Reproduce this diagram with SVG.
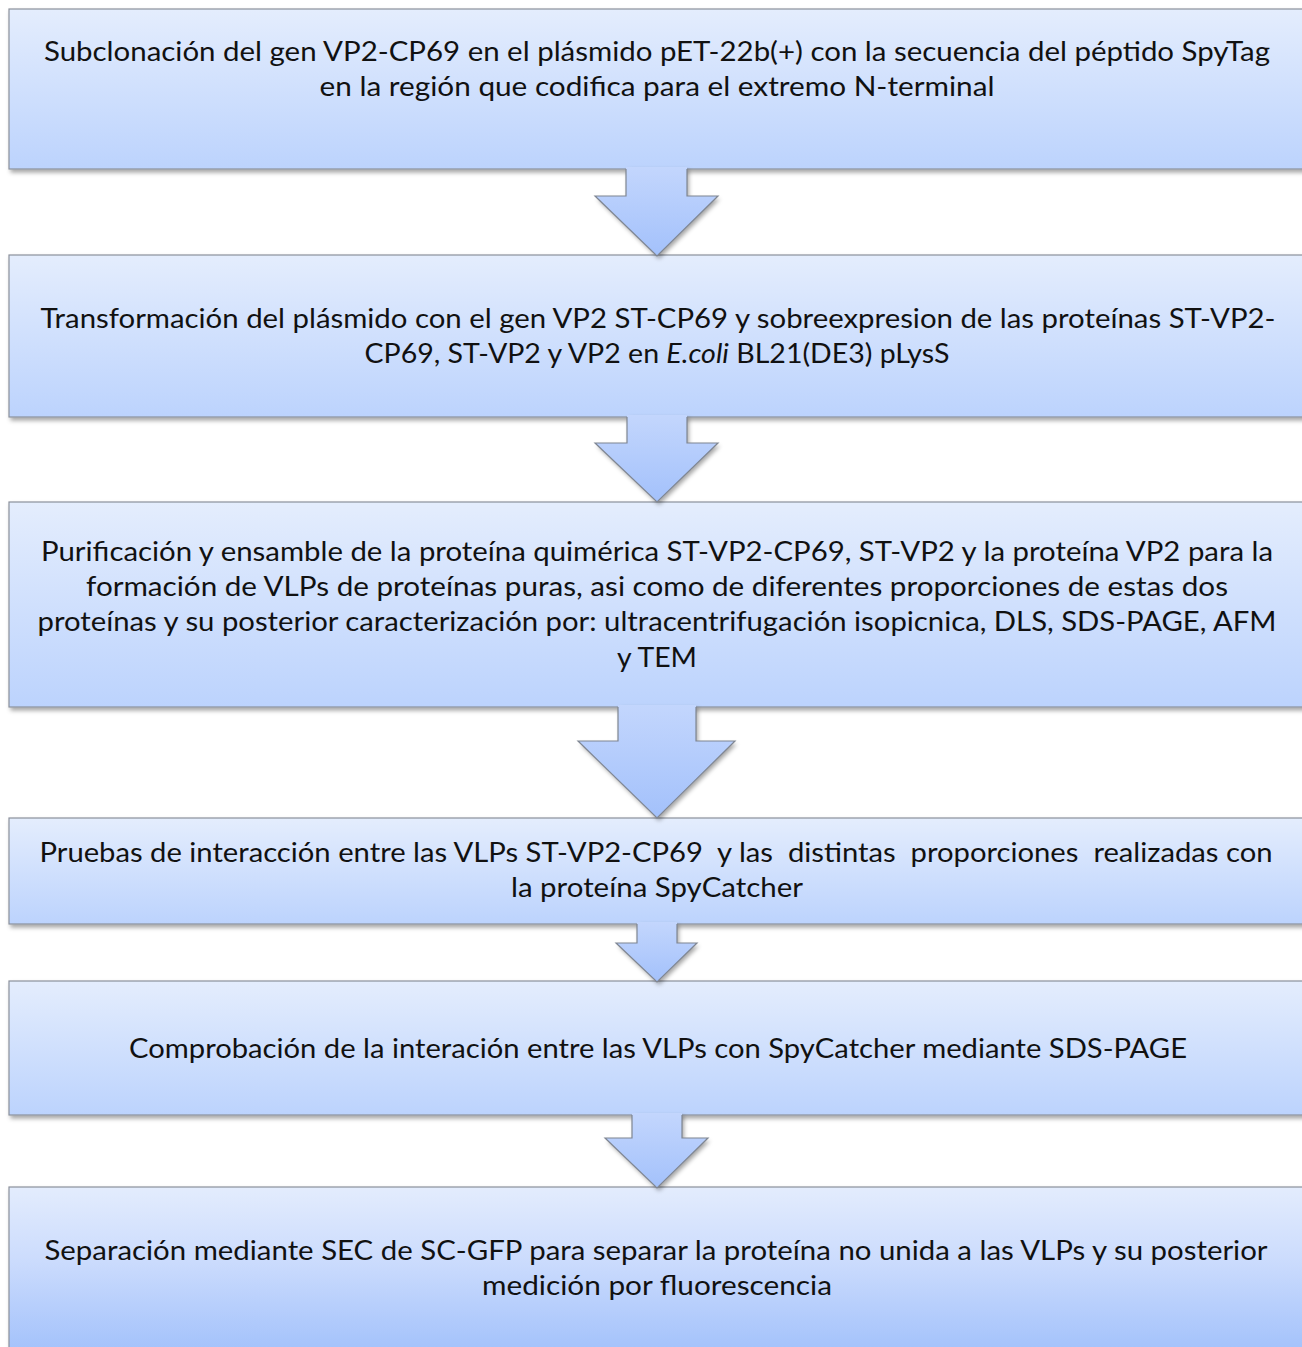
<svg xmlns="http://www.w3.org/2000/svg" width="1302" height="1347" viewBox="0 0 1302 1347">
  <defs>
    <linearGradient id="boxFill" x1="0" y1="0" x2="0" y2="1">
      <stop offset="0" stop-color="#e4edfd"/>
      <stop offset="1" stop-color="#bcd3fd"/>
    </linearGradient>
    <linearGradient id="lastFill" x1="0" y1="1187" x2="0" y2="1347" gradientUnits="userSpaceOnUse">
      <stop offset="0" stop-color="#e3ecfd"/>
      <stop offset="0.45" stop-color="#ccdcfd"/>
      <stop offset="1" stop-color="#a5c3fb"/>
    </linearGradient>
    <linearGradient id="arrowFill" x1="0" y1="0" x2="0" y2="1">
      <stop offset="0" stop-color="#c3d6fd"/>
      <stop offset="1" stop-color="#a3c1fb"/>
    </linearGradient>
    <filter id="shadow" x="-5%" y="-20%" width="115%" height="150%">
      <feDropShadow dx="2" dy="3" stdDeviation="2.2" flood-color="#000" flood-opacity="0.35"/>
    </filter>
  </defs>
  <style>
    .box { stroke: #8b919c; stroke-width: 1.2; filter: url(#shadow); }
    .arrow { fill: url(#arrowFill); filter: url(#shadow); }
    .edge { fill: none; stroke: #7f8692; stroke-width: 1.2; stroke-linejoin: miter; }
    text { font-family: "Lato", "Open Sans", sans-serif; font-size: 27px; fill: #111; text-anchor: middle; }
  </style>

  <rect width="1302" height="1347" fill="#ffffff"/>

  <!-- process steps -->
  <g id="step1">
    <rect class="box" x="9" y="9" width="1310" height="160" fill="url(#boxFill)"/>
    <text x="657" y="61" textLength="1226" lengthAdjust="spacingAndGlyphs">Subclonación del gen VP2-CP69 en el plásmido pET-22b(+) con la secuencia del péptido SpyTag</text>
    <text x="657" y="96" textLength="675" lengthAdjust="spacingAndGlyphs">en la región que codifica para el extremo N-terminal</text>
  </g>

  <g id="step2">
    <rect class="box" x="9" y="255" width="1310" height="162" fill="url(#boxFill)"/>
    <text x="658" y="328" textLength="1235" lengthAdjust="spacingAndGlyphs">Transformación del plásmido con el gen VP2 ST-CP69 y sobreexpresion de las proteínas ST-VP2-</text>
    <text x="657" y="363" textLength="585" lengthAdjust="spacingAndGlyphs">CP69, ST-VP2 y VP2 en <tspan font-style="italic">E.coli</tspan> BL21(DE3) pLysS</text>
  </g>

  <g id="step3">
    <rect class="box" x="9" y="502" width="1310" height="205" fill="url(#boxFill)"/>
    <text x="657" y="561" textLength="1232" lengthAdjust="spacingAndGlyphs">Purificación y ensamble de la proteína quimérica ST-VP2-CP69, ST-VP2 y la proteína VP2 para la</text>
    <text x="657" y="596" textLength="1142" lengthAdjust="spacingAndGlyphs">formación de VLPs de proteínas puras, asi como de diferentes proporciones de estas dos</text>
    <text x="657" y="631" textLength="1239" lengthAdjust="spacingAndGlyphs">proteínas y su posterior caracterización por: ultracentrifugación isopicnica, DLS, SDS-PAGE, AFM</text>
    <text x="657" y="667" textLength="80" lengthAdjust="spacingAndGlyphs">y TEM</text>
  </g>

  <g id="step4">
    <rect class="box" x="9" y="818" width="1310" height="106" fill="url(#boxFill)"/>
    <text x="656" y="862" textLength="1233" lengthAdjust="spacingAndGlyphs" style="white-space:pre">Pruebas de interacción entre las VLPs ST-VP2-CP69  y las  distintas  proporciones  realizadas con</text>
    <text x="657" y="897" textLength="292" lengthAdjust="spacingAndGlyphs">la proteína SpyCatcher</text>
  </g>

  <g id="step5">
    <rect class="box" x="9" y="981" width="1310" height="134" fill="url(#boxFill)"/>
    <text x="658" y="1058" textLength="1058" lengthAdjust="spacingAndGlyphs">Comprobación de la interación entre las VLPs con SpyCatcher mediante SDS-PAGE</text>
  </g>

  <g id="step6">
    <rect class="box" x="9" y="1187" width="1310" height="200" fill="url(#lastFill)"/>
    <text x="656" y="1260" textLength="1223" lengthAdjust="spacingAndGlyphs">Separación mediante SEC de SC-GFP para separar la proteína no unida a las VLPs y su posterior</text>
    <text x="657" y="1295" textLength="350" lengthAdjust="spacingAndGlyphs">medición por fluorescencia</text>
  </g>

  <!-- block arrows between steps -->
  <g id="connectors">
    <g>
      <polygon class="arrow" points="626,167 687,167 687,196 718,196 657,256 595,196 626,196"/>
      <path class="edge" d="M626,169 V196 H595 L657,256 L718,196 H687 V169"/>
    </g>
    <g>
      <polygon class="arrow" points="627,415 687,415 687,443 718,443 657,502 595,443 627,443"/>
      <path class="edge" d="M627,417 V443 H595 L657,502 L718,443 H687 V417"/>
    </g>
    <g>
      <polygon class="arrow" points="618,705 696,705 696,741 735,741 657,818 578,741 618,741"/>
      <path class="edge" d="M618,707 V741 H578 L657,818 L735,741 H696 V707"/>
    </g>
    <g>
      <polygon class="arrow" points="637,922 677,922 677,943 697,943 657,982 616,943 637,943"/>
      <path class="edge" d="M637,924 V943 H616 L657,982 L697,943 H677 V924"/>
    </g>
    <g>
      <polygon class="arrow" points="632,1113 682,1113 682,1138 708,1138 657,1188 605,1138 632,1138"/>
      <path class="edge" d="M632,1115 V1138 H605 L657,1188 L708,1138 H682 V1115"/>
    </g>
  </g>
</svg>
